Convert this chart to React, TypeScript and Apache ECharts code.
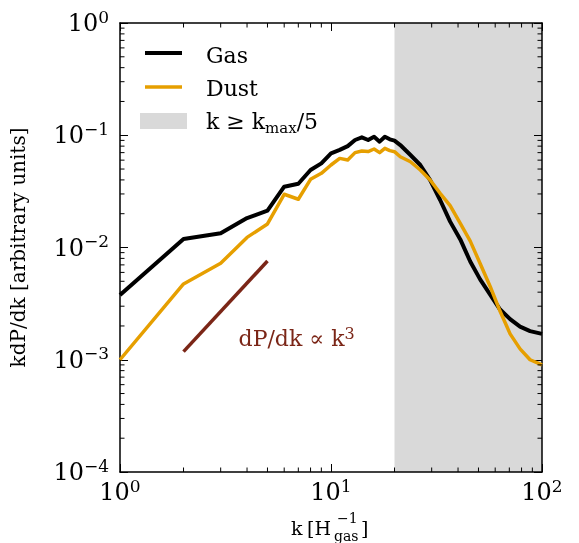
import { useEffect, useRef } from 'react';
import * as echarts from 'echarts';

// wavenumber k [H_gas^-1]
const kValues = [1, 2, 3, 4, 5, 6, 7, 8, 9, 10, 11, 12, 13, 14, 15, 16, 17, 18, 19, 20, 21.3, 23.8, 26.5, 29.5, 32.9, 36.7, 41.0, 45.7, 50.9, 56.8, 63.3, 70.6, 78.7, 87.8, 100];
// kdP/dk (arbitrary units)
const gasPower = [0.00377, 0.0119, 0.0134, 0.0183, 0.0213, 0.0348, 0.037, 0.049, 0.0562, 0.069, 0.074, 0.080, 0.0907, 0.0958, 0.0907, 0.097, 0.0877, 0.097, 0.092, 0.0895, 0.0818, 0.0667, 0.0543, 0.0399, 0.0265, 0.0170, 0.0118, 0.0075, 0.0052, 0.0038, 0.0028, 0.0023, 0.00197, 0.0018, 0.0017];
const dustPower = [0.001, 0.00473, 0.00723, 0.0123, 0.0162, 0.0298, 0.0269, 0.0405, 0.0458, 0.0543, 0.0622, 0.0602, 0.070, 0.0724, 0.0715, 0.0754, 0.070, 0.0764, 0.0729, 0.0714, 0.0644, 0.0581, 0.049, 0.0399, 0.0304, 0.0236, 0.0164, 0.0114, 0.0072, 0.0045, 0.0027, 0.0017, 0.00125, 0.001, 0.0009];
// reference slope line
const slopeRefK = [2, 5];
const slopeRefP = [0.00118, 0.00758];
const annotationPos = [6.87, 0.00156];
// shaded region k >= kmax/5
const shadeRange = [20, 100];
// axes
const xMin = 1, xMax = 100, yMin = 1e-4, yMax = 1;
const xMinorTicks = [2, 3, 4, 5, 6, 7, 8, 9, 20, 30, 40, 50, 60, 70, 80, 90];
const yDecades = [1e-4, 1e-3, 1e-2, 1e-1];
const minorMult = [2, 3, 4, 5, 6, 7, 8, 9];

const FONT = 'DejaVu Serif';
const GAS_COLOR = '#000000';
const DUST_COLOR = '#E69F00';
const REF_COLOR = '#7b2617';
const SHADE_COLOR = '#d9d9d9';

const powLabel = (v: number) => {
  const e = Math.round(Math.log10(v));
  return `{b|10}{s|${e < 0 ? '\u2212' + -e : e}}`;
};
const labelRich = {
  b: { fontFamily: FONT, fontSize: 24, color: '#000', lineHeight: 30 },
  s: { fontFamily: FONT, fontSize: 17, color: '#000', lineHeight: 18, verticalAlign: 'top' },
};

export default function App() {
  const ref = useRef<HTMLDivElement>(null);
  useEffect(() => {
    const chart = echarts.init(ref.current!, null, { renderer: 'svg' });
    const yMinorTicks: number[] = [];
    yDecades.forEach((d) => minorMult.forEach((m) => yMinorTicks.push(m * d)));

    const axisLine = { show: true, lineStyle: { color: '#000', width: 1.5 } };
    const axisTick = { show: true, inside: true, length: 8, lineStyle: { color: '#000', width: 1 } };

    const option: any = {
      animation: false,
      grid: { left: 119, top: 23, width: 423, height: 449, containLabel: false },
      xAxis: [
        {
          type: 'log', logBase: 10, min: xMin, max: xMax, position: 'bottom',
          axisLine, axisTick, splitLine: { show: false }, minorTick: { show: false },
          axisLabel: { margin: 5, formatter: powLabel, rich: labelRich, showMinLabel: true, showMaxLabel: true },
        },
        {
          type: 'log', logBase: 10, min: xMin, max: xMax, position: 'top',
          axisLine, axisTick, splitLine: { show: false }, axisLabel: { show: false },
        },
      ],
      yAxis: [
        {
          type: 'log', logBase: 10, min: yMin, max: yMax, position: 'left',
          axisLine, axisTick, splitLine: { show: false },
          axisLabel: { margin: 11, formatter: powLabel, rich: labelRich, showMinLabel: true, showMaxLabel: true },
          name: 'kdP/dk [arbitrary units]', nameLocation: 'middle', nameGap: 92, nameRotate: 90,
          nameTextStyle: { fontFamily: FONT, fontSize: 20, color: '#000' },
        },
        {
          type: 'log', logBase: 10, min: yMin, max: yMax, position: 'right',
          axisLine, axisTick, splitLine: { show: false }, axisLabel: { show: false },
        },
      ],
      series: [
        {
          type: 'custom', xAxisIndex: 0, yAxisIndex: 0, silent: true, clip: false, z: 0,
          data: [shadeRange],
          renderItem: (_p: any, api: any) => {
            const a = api.coord([api.value(0), yMax]);
            const b = api.coord([api.value(1), yMin]);
            return { type: 'rect', shape: { x: a[0], y: a[1], width: b[0] - a[0], height: b[1] - a[1] }, style: { fill: SHADE_COLOR } };
          },
        },
        {
          name: 'Gas', type: 'line', z: 3, showSymbol: false, symbol: 'none',
          data: kValues.map((k, i) => [k, gasPower[i]]),
          lineStyle: { color: GAS_COLOR, width: 4, join: 'round' },
        },
        {
          name: 'Dust', type: 'line', z: 4, showSymbol: false, symbol: 'none',
          data: kValues.map((k, i) => [k, dustPower[i]]),
          lineStyle: { color: DUST_COLOR, width: 3.5, join: 'round' },
        },
        {
          name: 'ref', type: 'line', z: 4, showSymbol: false, symbol: 'none',
          data: slopeRefK.map((k, i) => [k, slopeRefP[i]]),
          lineStyle: { color: REF_COLOR, width: 3.5 },
        },
        {
          type: 'scatter', z: 5, symbolSize: 1, silent: true,
          itemStyle: { color: 'rgba(0,0,0,0)', opacity: 1 },
          emphasis: { disabled: true },
          data: [annotationPos],
          label: {
            show: true, position: 'inside', opacity: 1, formatter: '{t|dP/dk \u221D k}{s|3}',
            rich: {
              t: { fontFamily: FONT, fontSize: 22, color: REF_COLOR, lineHeight: 26, opacity: 1 },
              s: { fontFamily: FONT, fontSize: 16, color: REF_COLOR, lineHeight: 16, verticalAlign: 'top', opacity: 1 },
            },
          },
        },
        {
          type: 'custom', xAxisIndex: 0, yAxisIndex: 0, silent: true, clip: false, z: 10,
          data: xMinorTicks.map((v) => [v, yMin]),
          renderItem: (_p: any, api: any) => {
            const b = api.coord([api.value(0), yMin]);
            const t = api.coord([api.value(0), yMax]);
            const st = { stroke: '#000', lineWidth: 1 };
            return {
              type: 'group', children: [
                { type: 'line', shape: { x1: b[0], y1: b[1], x2: b[0], y2: b[1] - 4.5 }, style: st },
                { type: 'line', shape: { x1: t[0], y1: t[1], x2: t[0], y2: t[1] + 4.5 }, style: st },
              ],
            };
          },
        },
        {
          type: 'custom', xAxisIndex: 0, yAxisIndex: 0, silent: true, clip: false, z: 10,
          data: yMinorTicks.map((v) => [xMin, v]),
          renderItem: (_p: any, api: any) => {
            const l = api.coord([xMin, api.value(1)]);
            const r = api.coord([xMax, api.value(1)]);
            const st = { stroke: '#000', lineWidth: 1 };
            return {
              type: 'group', children: [
                { type: 'line', shape: { x1: l[0], y1: l[1], x2: l[0] + 4.5, y2: l[1] }, style: st },
                { type: 'line', shape: { x1: r[0], y1: r[1], x2: r[0] - 4.5, y2: r[1] }, style: st },
              ],
            };
          },
        },
      ],
      graphic: [
        // legend
        { type: 'line', shape: { x1: 145, y1: 53, x2: 182, y2: 53 }, style: { stroke: GAS_COLOR, lineWidth: 4 }, z: 20 },
        { type: 'text', x: 206, y: 55, style: { text: 'Gas', fontFamily: FONT, fontSize: 22, fill: '#000', verticalAlign: 'middle' }, z: 20 },
        { type: 'line', shape: { x1: 145, y1: 87, x2: 182, y2: 87 }, style: { stroke: DUST_COLOR, lineWidth: 3.5 }, z: 20 },
        { type: 'text', x: 206, y: 88, style: { text: 'Dust', fontFamily: FONT, fontSize: 22, fill: '#000', verticalAlign: 'middle' }, z: 20 },
        { type: 'rect', shape: { x: 140, y: 113, width: 47, height: 16 }, style: { fill: SHADE_COLOR }, z: 20 },
        {
          type: 'text', x: 206, y: 121, z: 20,
          style: {
            text: '{a|k \u2265 k}{m|max}{a|/5}', verticalAlign: 'middle',
            rich: {
              a: { fontFamily: FONT, fontSize: 22, fill: '#000', lineHeight: 28 },
              m: { fontFamily: FONT, fontSize: 15, fill: '#000', lineHeight: 16, verticalAlign: 'bottom' },
            },
          },
        },
        // x axis title
        { type: 'text', x: 291, y: 528, style: { text: 'k', fontFamily: FONT, fontSize: 19, fill: '#000', verticalAlign: 'middle' } },
        { type: 'text', x: 307, y: 528, style: { text: '[H', fontFamily: FONT, fontSize: 19, fill: '#000', verticalAlign: 'middle' } },
        { type: 'text', x: 337, y: 518, style: { text: '\u22121', fontFamily: FONT, fontSize: 14, fill: '#000', verticalAlign: 'middle' } },
        { type: 'text', x: 334, y: 536, style: { text: 'gas', fontFamily: FONT, fontSize: 14, fill: '#000', verticalAlign: 'middle' } },
        { type: 'text', x: 361, y: 528, style: { text: ']', fontFamily: FONT, fontSize: 19, fill: '#000', verticalAlign: 'middle' } },
      ],
    };
    chart.setOption(option);
    return () => chart.dispose();
  }, []);
  return <div ref={ref} style={{ position: 'fixed', left: 0, top: 0, width: 579, height: 543 }} />;
}
